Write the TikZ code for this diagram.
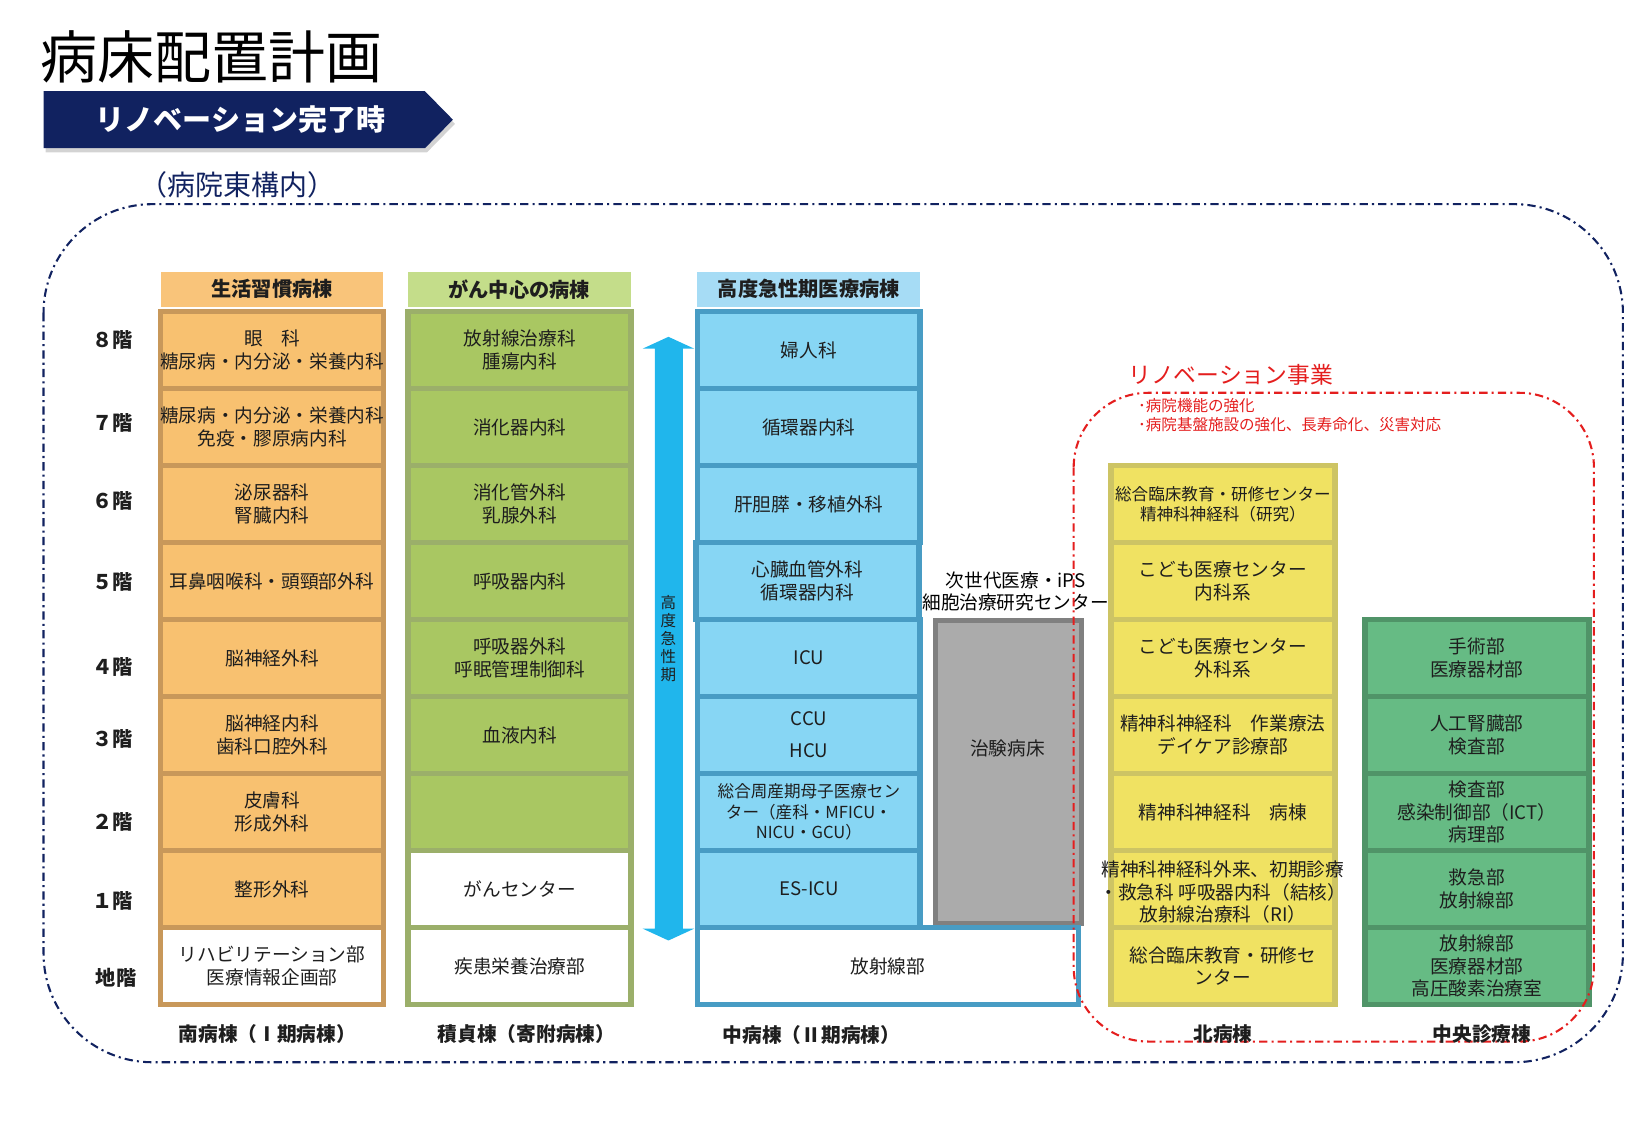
\documentclass[tikz,border=0pt]{standalone}
\usepackage{fontspec}
\setmainfont{Noto Sans CJK JP}
\usetikzlibrary{shadows}
\definecolor{navy}{RGB}{17,34,96}
\definecolor{orgF}{RGB}{248,193,112}
\definecolor{orgD}{RGB}{200,152,90}
\definecolor{orgH}{RGB}{249,196,122}
\definecolor{grnF}{RGB}{169,199,98}
\definecolor{grnD}{RGB}{155,175,106}
\definecolor{grnH}{RGB}{196,221,138}
\definecolor{bluF}{RGB}{135,214,244}
\definecolor{bluD}{RGB}{72,156,196}
\definecolor{bluH}{RGB}{166,220,245}
\definecolor{yelF}{RGB}{240,226,98}
\definecolor{yelD}{RGB}{205,196,100}
\definecolor{cenF}{RGB}{102,187,132}
\definecolor{cenD}{RGB}{80,148,104}
\definecolor{gryF}{RGB}{171,171,171}
\definecolor{gryD}{RGB}{128,128,128}
\definecolor{arrC}{RGB}{32,182,236}
\definecolor{redL}{RGB}{228,30,30}
\definecolor{txtC}{RGB}{30,30,30}
\newcommand\cellnode[6]{%
  \node[cellbox,#4] (#1) at (#2,#3) {};
  \node[celltxt,#5] (#1t) at (#1.center) {#6};}
\begin{document}
\begin{tikzpicture}[x=1pt,y=-1pt,
  cellbox/.style={rectangle,minimum width=215pt,minimum height=74.3pt,inner sep=0pt,line width=5.5pt},
  celltxt/.style={align=center,inner sep=0pt,text=txtC,font=\fontsize{18}{22}\selectfont},
  smalltxt/.style={font=\fontsize{16}{19.5}\selectfont},
  c1/.style={fill=orgF,draw=orgD}, c1w/.style={fill=white,draw=orgD},
  c2/.style={fill=grnF,draw=grnD}, c2w/.style={fill=white,draw=grnD},
  c3/.style={fill=bluF,draw=bluD},
  c4/.style={fill=yelF,draw=yelD,minimum width=216pt},
  c5/.style={fill=cenF,draw=cenD,minimum width=216pt},
  hdr/.style={rectangle,minimum width=215pt,minimum height=34pt,inner sep=0pt,font=\bfseries\fontsize{19.5}{20}\selectfont,text=txtC},
  floorlab/.style={inner sep=0pt,font=\bfseries\fontsize{19.5}{19.5}\selectfont,text=txtC},
  botlab/.style={inner sep=0pt,font=\bfseries\fontsize{19}{19}\selectfont,text=txtC},
  navydash/.style={draw=navy,line width=2pt,dash pattern=on 8pt off 4pt on 2pt off 4pt},
  reddash/.style={draw=redL,line width=2pt,dash pattern=on 8pt off 4pt on 2pt off 4pt}]
\useasboundingbox (0,0) rectangle (1568,1085.5);

% outer dashed frame
\draw[navydash,rounded corners=105pt] (42,197) rectangle (1566,1025);

% title
\node[inner sep=0pt,font=\fontsize{55}{55}\selectfont,text=black] (title) at (204,55) {病床配置計画};
\fill[navy,drop shadow={opacity=0.35,shadow xshift=2pt,shadow yshift=-4pt}] (42,88) -- (410,88) -- (437,115.5) -- (410,143) -- (42,143) -- cycle;
\node[inner sep=0pt,font=\bfseries\fontsize{28}{28}\selectfont,text=white] (banner) at (232,115) {リノベーション完了時};
\node[inner sep=0pt,font=\fontsize{27}{27}\selectfont,text=navy] (site) at (229,178) {（病院東構内）};

% headers
\node[hdr,fill=orgH] (h1) at (262.5,279) {生活習慣病棟};
\node[hdr,fill=grnH] (h2) at (501,279) {がん中心の病棟};
\node[hdr,fill=bluH] (h3) at (780.5,279) {高度急性期医療病棟};

% floor labels
\node[floorlab] (f8) at (109,328) {８階};
\node[floorlab] (f7) at (109,408) {７階};
\node[floorlab] (f6) at (109,483) {６階};
\node[floorlab] (f5) at (109,562) {５階};
\node[floorlab] (f4) at (109,644) {４階};
\node[floorlab] (f3) at (109,713) {３階};
\node[floorlab] (f2) at (109,793) {２階};
\node[floorlab] (f1) at (109,869) {１階};
\node[floorlab] (fb) at (112,944) {地階};

% column 1 (south)
\cellnode{a8}{262.5}{337.7}{c1}{}{眼　科\\糖尿病・内分泌・栄養内科}
\cellnode{a7}{262.5}{412.0}{c1}{}{糖尿病・内分泌・栄養内科\\免疫・膠原病内科}
\cellnode{a6}{262.5}{486.3}{c1}{}{泌尿器科\\腎臓内科}
\cellnode{a5}{262.5}{560.6}{c1}{}{耳鼻咽喉科・頭頸部外科}
\cellnode{a4}{262.5}{634.9}{c1}{}{脳神経外科}
\cellnode{a3}{262.5}{709.2}{c1}{}{脳神経内科\\歯科口腔外科}
\cellnode{a2}{262.5}{783.5}{c1}{}{皮膚科\\形成外科}
\cellnode{a1}{262.5}{857.8}{c1}{}{整形外科}
\cellnode{ab}{262.5}{932.1}{c1w}{}{リハビリテーション部\\医療情報企画部}

% column 2
\cellnode{b8}{501.5}{337.7}{c2}{}{放射線治療科\\腫瘍内科}
\cellnode{b7}{501.5}{412.0}{c2}{}{消化器内科}
\cellnode{b6}{501.5}{486.3}{c2}{}{消化管外科\\乳腺外科}
\cellnode{b5}{501.5}{560.6}{c2}{}{呼吸器内科}
\cellnode{b4}{501.5}{634.9}{c2}{}{呼吸器外科\\呼眠管理制御科}
\cellnode{b3}{501.5}{709.2}{c2}{}{血液内科}
\cellnode{b2}{501.5}{783.5}{c2}{}{}
\cellnode{b1}{501.5}{857.8}{c2w}{}{がんセンター}
\cellnode{bb}{501.5}{932.1}{c2w}{}{疾患栄養治療部}

% gray column
\node[rectangle,fill=gryF,draw=gryD,line width=5pt,minimum width=141pt,minimum height=292.5pt,inner sep=0pt] (gray) at (973,744.8) {};
\node[celltxt] (grayt) at (972,722) {治験病床};

% column 3
\cellnode{c8}{780.5}{337.7}{c3}{}{婦人科}
\cellnode{c7}{780.5}{412.0}{c3}{}{循環器内科}
\cellnode{c6}{780.5}{486.3}{c3}{}{肝胆膵・移植外科}
\cellnode{c5}{779.0}{560.6}{c3}{}{心臓血管外科\\循環器内科}
\cellnode{c4}{780.5}{634.9}{c3}{}{ICU}
\cellnode{c3}{780.5}{709.2}{c3}{}{CCU\\[9pt]HCU}
\cellnode{c2}{780.5}{783.5}{c3}{smalltxt}{総合周産期母子医療セン\\ター（産科・MFICU・\\NICU・GCU）}
\cellnode{c1}{780.5}{857.8}{c3}{}{ES-ICU}
\node[rectangle,fill=white,draw=bluD,line width=5.5pt,minimum width=367.5pt,minimum height=74.3pt,inner sep=0pt] (cb) at (856.8,932.1) {};
\node[celltxt] (cbt) at (cb.center) {放射線部};

% north
\cellnode{n6}{1180}{486.3}{c4}{smalltxt}{総合臨床教育・研修センター\\精神科神経科（研究）}
\cellnode{n5}{1180}{560.6}{c4}{}{こども医療センター\\内科系}
\cellnode{n4}{1180}{634.9}{c4}{}{こども医療センター\\外科系}
\cellnode{n3}{1180}{709.2}{c4}{}{精神科神経科　作業療法\\デイケア診療部}
\cellnode{n2}{1180}{783.5}{c4}{}{精神科神経科　病棟}
\cellnode{n1}{1180}{857.8}{c4}{yshift=-3pt}{精神科神経科外来、初期診療\\・救急科 呼吸器内科（結核）\\放射線治療科（RI）}
\cellnode{nb}{1180}{932.1}{c4}{}{総合臨床教育・研修セ\\ンター}

% central
\cellnode{m4}{1425}{634.9}{c5}{}{手術部\\医療器材部}
\cellnode{m3}{1425}{709.2}{c5}{}{人工腎臓部\\検査部}
\cellnode{m2}{1425}{783.5}{c5}{}{検査部\\感染制御部（ICT）\\病理部}
\cellnode{m1}{1425}{857.8}{c5}{}{救急部\\放射線部}
\cellnode{mb}{1425}{932.1}{c5}{}{放射線部\\医療器材部\\高圧酸素治療室}

% arrow 高度急性期
\fill[arrC] (645,325) -- (670,336.5) -- (659,336.5) -- (659,896) -- (670,896) -- (645,907.5) -- (620,896) -- (632,896) -- (632,336.5) -- (620,336.5) -- cycle;
\node[inner sep=0pt,align=center,text=txtC,font=\fontsize{15}{17.5}\selectfont] (vt) at (645,616) {高\\度\\急\\性\\期};

% label next-gen center
\node[inner sep=0pt,align=center,text=black,font=\fontsize{18}{21}\selectfont] (ips) at (980,570.5) {次世代医療・iPS\\細胞治療研究センター};

% renovation frame
\draw[reddash,rounded corners=72pt] (1036,379) rectangle (1538,1005);
\node[inner sep=0pt,text=redL,font=\fontsize{22}{22}\selectfont] (renov) at (1187.5,362) {リノベーション事業};
\node[inner sep=0pt,anchor=west,text=redL,font=\fontsize{15}{15}\selectfont] (rn1) at (1098,391) {･病院機能の強化};
\node[inner sep=0pt,anchor=west,text=redL,font=\fontsize{15}{15}\selectfont] (rn2) at (1098,410) {･病院基盤施設の強化、長寿命化、災害対応};

% bottom labels
\node[botlab] (l1) at (258,998) {南病棟（Ⅰ期病棟）};
\node[botlab] (l2) at (508,998) {積貞棟（寄附病棟）};
\node[botlab] (l3) at (783,999) {中病棟（Ⅱ期病棟）};
\node[botlab] (l4) at (1180,998) {北病棟};
\node[botlab] (l5) at (1430,998) {中央診療棟};
\end{tikzpicture}
\end{document}
